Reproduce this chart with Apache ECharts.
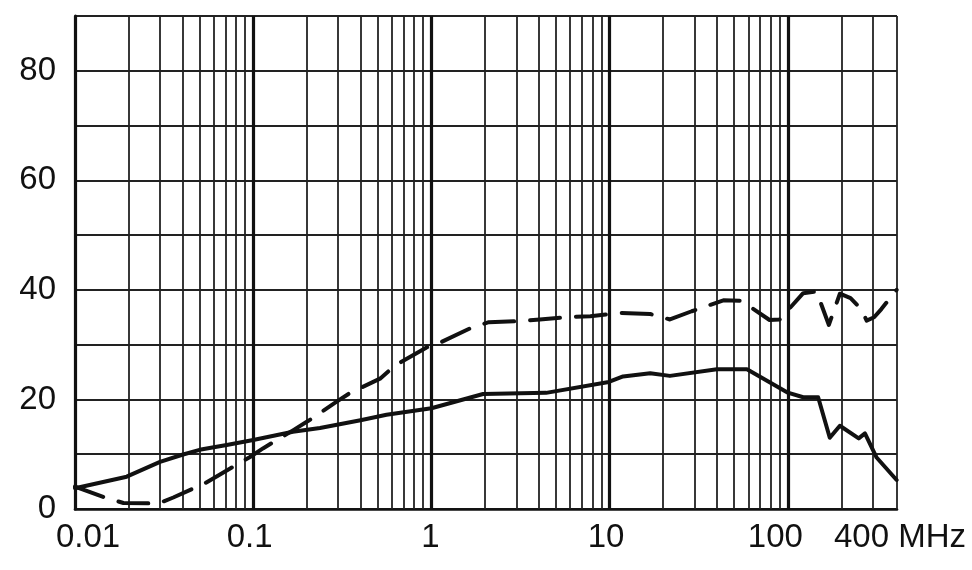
<!DOCTYPE html>
<html>
<head>
<meta charset="utf-8">
<script src="https://cdn.jsdelivr.net/npm/echarts@6/dist/echarts.min.js"></script>
<style>
html,body{margin:0;padding:0;background:#fff;}
#chart{width:972px;height:570px;}
</style>
</head>
<body>
<div id="chart"></div>
<script>
// Frequency (MHz) / value pairs
const solidFreq = [0.01, 0.0195, 0.03, 0.04, 0.05, 0.071, 0.1, 0.167, 0.237, 0.4, 0.56, 1.0, 1.95, 4.4, 9.9, 11.9, 16.9, 21.8, 40, 59, 99, 122, 148, 172, 196, 250, 271, 315, 408];
const solidVal  = [3.8, 5.9, 8.6, 9.9, 10.8, 11.7, 12.6, 14.1, 14.8, 16.2, 17.2, 18.4, 21.0, 21.2, 23.2, 24.2, 24.8, 24.3, 25.5, 25.5, 21.3, 20.4, 20.4, 13.0, 15.2, 12.9, 13.8, 9.4, 5.3];

const dashFreq = [0.01, 0.015, 0.0187, 0.0293, 0.0356, 0.0537, 0.0651, 0.096, 0.114, 0.168, 0.204, 0.294, 0.35, 0.515, 0.625, 0.94, 1.14, 1.68, 2.1, 3.2, 4.06, 6.25, 7.8, 11.5, 16.9, 21.8, 28.9, 43.5, 55, 79, 90, 122, 145, 170, 176, 196, 225, 258, 277, 305, 335, 408];
const dashVal  = [4.1, 2.0, 1.1, 1.0, 2.1, 4.7, 6.3, 9.5, 11.1, 14.4, 16.1, 19.6, 21.2, 23.8, 26.2, 29.5, 30.5, 33.1, 34.1, 34.3, 34.6, 35.1, 35.2, 35.8, 35.6, 34.6, 36.1, 38.1, 38.0, 34.5, 34.6, 39.4, 39.7, 33.6, 35.0, 39.3, 38.5, 36.5, 34.4, 35.0, 36.5, 40.0];

// Grid / tick definitions
const xMin = 0.01, xMax = 410;
const majorGrid = [0.1, 1, 10, 100];
const minorGrid = [0.02,0.03,0.04,0.05,0.06,0.07,0.08,0.09,
                   0.2,0.3,0.4,0.5,0.6,0.7,0.8,0.9,
                   2,3,4,5,6,7,8,9,
                   20,30,40,50,60,70,80,90,
                   200,300,410];
const yTickLabels = [0, 20, 40, 60, 80];
const xUnitLabel = '400 MHz';

const FONT = "'Liberation Sans', Arial, sans-serif";
const INK = '#111';
const FS = 33;

const zip = (a, b) => a.map((v, i) => [v, b[i]]);

const markData = majorGrid.map(v => ({xAxis: v, lineStyle: {width: 3.2, color: INK, type: 'solid'}}))
  .concat(minorGrid.map(v => ({xAxis: v, lineStyle: {width: 1.8, color: '#222', type: 'solid'}})));

const chart = echarts.init(document.getElementById('chart'), null, {renderer: 'canvas'});
const rs = (extra) => Object.assign({fontSize: FS, fontFamily: FONT, color: INK}, extra);

chart.setOption({
  animation: false,
  backgroundColor: '#fff',
  grid: {left: 75, right: 75, top: 16, bottom: 61, containLabel: false},
  xAxis: {
    type: 'log', logBase: 10, min: xMin, max: xMax,
    axisLine: {show: true, lineStyle: {color: INK, width: 2.6}},
    axisTick: {show: false},
    splitLine: {show: false},
    axisLabel: {
      show: true, margin: 12, fontSize: FS, fontFamily: FONT, color: INK,
      showMinLabel: true, showMaxLabel: true,
      formatter: function (v) {
        if (v > 300) return '{m|' + xUnitLabel + '}';
        if (v < 0.015) return '{l|0.01}';
        if (v > 50) return '{h|100}';
        if (v > 5) return '{s|10}';
        if (v < 0.5) return '{s|0.1}';
        return '{n|1}';
      },
      rich: {
        l: rs({padding: [0, 0, 0, 26]}),
        h: rs({padding: [0, 25, 0, 0]}),
        s: rs({padding: [0, 7, 0, 0]}),
        n: rs({padding: [0, 2, 0, 0]}),
        m: rs({padding: [0, 0, 0, 6]})
      }
    }
  },
  yAxis: {
    type: 'value', min: 0, max: 90, interval: 10,
    axisLine: {show: true, lineStyle: {color: INK, width: 3.2}},
    axisTick: {show: false},
    axisLabel: {
      margin: 19, fontSize: FS, fontFamily: FONT, color: INK,
      formatter: v => yTickLabels.indexOf(v) >= 0 ? String(v) : ''
    },
    splitLine: {show: true, lineStyle: {color: '#222', width: 1.8}}
  },
  series: [
    {
      name: 'grid', type: 'line', data: [], silent: true,
      markLine: {
        silent: true, z: 1, symbol: ['none', 'none'],
        label: {show: false}, animation: false,
        data: markData
      }
    },
    {
      name: 'solid', type: 'line', z: 3, showSymbol: false, symbol: 'none',
      data: zip(solidFreq, solidVal),
      lineStyle: {color: INK, width: 4, type: 'solid', cap: 'round', join: 'round'}
    },
    {
      name: 'dashed', type: 'line', z: 3, showSymbol: false, symbol: 'none',
      data: zip(dashFreq, dashVal),
      lineStyle: {color: INK, width: 4, type: [30, 16], cap: 'round', join: 'round'}
    }
  ]
});
</script>
</body>
</html>
